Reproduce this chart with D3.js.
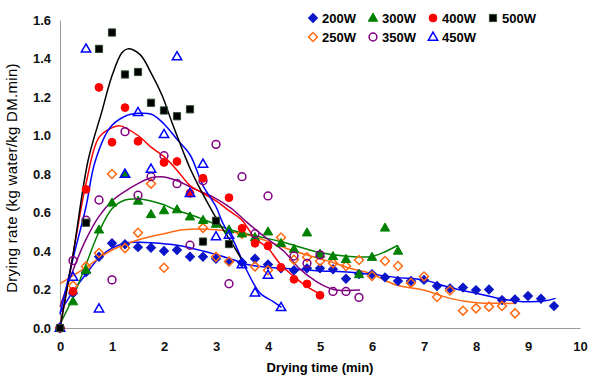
<!DOCTYPE html>
<html>
<head>
<meta charset="utf-8">
<script src="https://cdn.jsdelivr.net/npm/d3@7"></script>
<style>
  body { margin: 0; background: #fff; }
  text { font-family: "Liberation Sans", Arial, sans-serif; }
</style>
</head>
<body>
<div id="chart"></div>
<script>
// Data: drying rate (kg water/kg DM.min) measured every 0.25 min
var timeSteps = [0, 0.25, 0.5, 0.75, 1, 1.25, 1.5, 1.75, 2, 2.25, 2.5, 2.75, 3, 3.25, 3.5, 3.75,
                 4, 4.25, 4.5, 4.75, 5, 5.25, 5.5, 5.75, 6, 6.25, 6.5, 6.75, 7, 7.25, 7.5, 7.75,
                 8, 8.25, 8.5, 8.75, 9, 9.25, 9.5];

var rate200 = [0, 0.18, 0.29, 0.37, 0.44, 0.435, 0.42, 0.417, 0.40, 0.405, 0.37, 0.37, 0.36, 0.345, 0.34, 0.36,
               0.33, 0.31, 0.30, 0.31, 0.31, 0.305, 0.256, 0.28, 0.28, 0.263, 0.244, 0.244, 0.25, 0.218, 0.206, 0.21,
               0.197, 0.20, 0.145, 0.149, 0.166, 0.152, 0.114];
var rate250 = [0, 0.22, 0.32, 0.39, 0.80, 0.415, 0.495, 0.75, 0.313, null, null, 0.52, 0.37, 0.345, 0.49, 0.32,
               0.30, 0.47, 0.355, 0.368, 0.347, 0.337, 0.322, 0.353, 0.27, 0.348, 0.322, 0.234, 0.268, 0.161, 0.195, 0.09,
               0.102, 0.111, 0.114, 0.076];
var rate300 = [0, 0.137, 0.30, 0.51, 0.65, 0.80, 0.66, 0.59, 0.61, 0.615, 0.578, 0.56, 0.54, 0.51, 0.49, 0.47,
               0.50, 0.44, 0.41, 0.495, 0.384, 0.372, 0.357, 0.278, 0.368, 0.52, 0.40];
var rate350 = [0, 0.35, 0.56, 0.665, 0.25, 1.02, 0.69, 0.786, 0.895, 0.75, 0.43, 0.765, 0.954, 0.23, 0.786, 0.49,
               0.686, null, 0.374, 0.336, 0.38, 0.19, 0.19, 0.159];
var rate400 = [0, 0.19, 0.72, 1.25, 0.965, 1.145, 0.97, null, 0.86, 0.865, 0.70, 0.778, null, 0.677, 0.518, 0.44,
               0.426, 0.315, 0.253, 0.229, 0.17];
var rate450 = [0, 0.265, 1.45, 0.10, null, 0.80, 1.12, 0.826, 1.006, 1.41, 0.70, 0.852, 0.475, 0.483, 0.33, 0.183,
               0.275, 0.107];
var rate500 = [0, null, 0.547, 1.45, 1.535, 1.317, 1.33, 1.17, 1.13, 1.10, 1.136, 0.449, 0.557, 0.436];

// Fitted curves
var fitT200 = [0, 0.25, 0.5, 0.77, 1, 1.25, 1.5, 1.75, 2.25, 2.75, 3.27, 3.65, 4.3, 4.94, 5.58, 5.96, 6.47, 6.99, 7.5, 8.01, 8.53, 8.9, 9.3, 9.53];
var fitV200 = [0.08, 0.19, 0.28, 0.37, 0.415, 0.44, 0.445, 0.443, 0.43, 0.40, 0.36, 0.327, 0.31, 0.298, 0.29, 0.28, 0.263, 0.25, 0.21, 0.18, 0.149, 0.137, 0.14, 0.154];
var fitT250 = [0, 0.5, 1, 1.5, 2, 2.37, 3, 3.65, 4, 4.5, 5, 5.25, 5.58, 5.96, 6.47, 6.99, 7.5, 8.01, 8.53, 8.78];
var fitV250 = [0.23, 0.315, 0.405, 0.457, 0.49, 0.51, 0.51, 0.48, 0.45, 0.40, 0.36, 0.34, 0.31, 0.284, 0.223, 0.197, 0.154, 0.131, 0.128, 0.128];
var fitT300 = [0, 0.25, 0.5, 0.75, 1, 1.25, 1.5, 1.75, 2, 2.25, 2.5, 2.75, 3.27, 3.65, 4.3, 4.94, 5.58, 6, 6.2, 6.5];
var fitV300 = [0.02, 0.16, 0.33, 0.50, 0.62, 0.665, 0.67, 0.66, 0.64, 0.61, 0.59, 0.565, 0.51, 0.485, 0.445, 0.395, 0.372, 0.372, 0.39, 0.43];
var fitT350 = [0, 0.25, 0.5, 0.75, 1, 1.25, 1.5, 1.75, 2, 2.3, 2.6, 2.95, 3.3, 3.59, 4, 4.3, 4.6, 4.94, 5.26, 5.5, 5.77];
var fitV350 = [0.11, 0.30, 0.46, 0.58, 0.66, 0.71, 0.75, 0.78, 0.785, 0.76, 0.72, 0.68, 0.62, 0.55, 0.46, 0.40, 0.31, 0.24, 0.20, 0.195, 0.197];
var fitT400 = [0, 0.25, 0.5, 0.75, 1, 1.15, 1.5, 1.75, 2, 2.25, 2.5, 2.75, 3, 3.25, 3.5, 3.75, 4, 4.25, 4.5, 4.75, 5];
var fitV400 = [0, 0.38, 0.75, 0.99, 1.04, 1.05, 1.0, 0.94, 0.89, 0.82, 0.74, 0.70, 0.66, 0.61, 0.56, 0.466, 0.414, 0.327, 0.267, 0.215, 0.177];
var fitT450 = [0, 0.25, 0.5, 0.67, 0.96, 1.25, 1.5, 1.76, 2, 2.25, 2.5, 2.75, 3, 3.14, 3.33, 3.59, 3.85, 4.1, 4.26];
var fitV450 = [0.07, 0.36, 0.63, 0.86, 1.04, 1.10, 1.115, 1.11, 1.06, 0.98, 0.90, 0.74, 0.63, 0.54, 0.457, 0.30, 0.18, 0.137, 0.107];
var fitT500 = [0, 0.25, 0.54, 0.8, 1, 1.19, 1.3, 1.54, 1.76, 1.96, 2.15, 2.37, 2.5, 2.69, 2.95, 3.14, 3.27, 3.5];
var fitV500 = [0, 0.38, 0.87, 1.12, 1.31, 1.43, 1.45, 1.42, 1.32, 1.21, 1.07, 0.916, 0.83, 0.725, 0.596, 0.51, 0.457, 0.353];

var xTicks = [0, 1, 2, 3, 4, 5, 6, 7, 8, 9, 10];
var yTicks = [0, 0.2, 0.4, 0.6, 0.8, 1.0, 1.2, 1.4, 1.6];

var series = [
    { name: "200W", rates: rate200, fitT: fitT200, fitV: fitV200, shape: "diamond",  fill: "#0a14c8", stroke: "#0a14c8", line: "#0000ff" },
    { name: "250W", rates: rate250, fitT: fitT250, fitV: fitV250, shape: "diamond",  fill: "none",    stroke: "#ff6a13", line: "#ff6a13" },
    { name: "300W", rates: rate300, fitT: fitT300, fitV: fitV300, shape: "triangle", fill: "#008000", stroke: "#008000", line: "#008000" },
    { name: "350W", rates: rate350, fitT: fitT350, fitV: fitV350, shape: "circle",   fill: "none",    stroke: "#800080", line: "#800080" },
    { name: "400W", rates: rate400, fitT: fitT400, fitV: fitV400, shape: "circle",   fill: "#ff0000", stroke: "#ff0000", line: "#ff0000" },
    { name: "450W", rates: rate450, fitT: fitT450, fitV: fitV450, shape: "triangle", fill: "none",    stroke: "#0000ff", line: "#0000ff" },
    { name: "500W", rates: rate500, fitT: fitT500, fitV: fitV500, shape: "square",   fill: "#000000", stroke: "#2e4a2e", line: "#000000" }
];

// Size
var chart_width  = 600;
var chart_height = 378;

var x = d3.scaleLinear().domain([0, 10]).range([60, 580]);
var y = d3.scaleLinear().domain([0, 1.6]).range([328, 20]);

var svg = d3.select("#chart")
    .append("svg")
    .attr("width", chart_width)
    .attr("height", chart_height);

// marker shapes
function markerPath(shape) {
    if (shape == "diamond")  return d3.symbol().type(d3.symbolSquare).size(40)();
    if (shape == "triangle") return d3.symbol().type(d3.symbolTriangle).size(38)();
    if (shape == "circle")   return d3.symbol().type(d3.symbolCircle).size(48)();
    return d3.symbol().type(d3.symbolSquare).size(52)();
}
function markerTransform(shape, px, py) {
    if (shape == "diamond") return "translate(" + px + "," + py + ") rotate(45)";
    if (shape == "triangle") return "translate(" + px + "," + (py + 0.5) + ")";
    return "translate(" + px + "," + py + ")";
}

// Axes
var xAxisMinor = d3.axisBottom(x)
    .tickValues(timeSteps.concat([9.75, 10]))
    .tickSizeInner(-3).tickSizeOuter(0)
    .tickFormat("");
var xAxis = d3.axisBottom(x)
    .tickValues(xTicks)
    .tickSizeInner(0).tickSizeOuter(0).tickPadding(14)
    .tickFormat(d3.format("d"));

var yMinor = d3.range(0, 33).map(function(i) { return i * 0.05; });
var yAxisMinor = d3.axisLeft(y)
    .tickValues(yMinor)
    .tickSizeInner(4).tickSizeOuter(0)
    .tickFormat("");
var yAxis = d3.axisLeft(y)
    .tickValues(yTicks)
    .tickSizeInner(0).tickSizeOuter(0).tickPadding(9)
    .tickFormat(d3.format(".1f"));

var gx = svg.append("g").attr("transform", "translate(0,328)");
gx.call(xAxisMinor);
gx.call(xAxis);
var gy = svg.append("g").attr("transform", "translate(60,0)");
gy.call(yAxisMinor);
gy.call(yAxis);

svg.selectAll(".domain").style("stroke", "#9a9a9a");
svg.selectAll(".tick line").style("stroke", "#9a9a9a");
svg.selectAll(".tick text")
    .style("font-size", "13px")
    .style("font-weight", "bold")
    .style("fill", "#111");

// Axis titles
svg.append("text")
    .attr("x", 320).attr("y", 372)
    .attr("text-anchor", "middle")
    .style("font-size", "13px").style("font-weight", "bold")
    .text("Drying time (min)");

svg.append("text")
    .attr("transform", "translate(17,178) rotate(-90)")
    .attr("text-anchor", "middle")
    .style("font-size", "15px")
    .style("letter-spacing", "0.3px")
    .text("Drying rate (kg water/kg DM.min)");

// Fitted lines
var line = d3.line()
    .x(function(d) { return x(d[0]); })
    .y(function(d) { return y(d[1]); })
    .curve(d3.curveCatmullRom.alpha(0.5));

series.forEach(function(s) {
    var pts = s.fitT.map(function(t, i) { return [t, s.fitV[i]]; });
    svg.append("path")
        .datum(pts)
        .attr("d", line)
        .style("fill", "none")
        .style("stroke", s.line)
        .style("stroke-width", 1.5);
});

// Points
series.forEach(function(s) {
    var pts = [];
    s.rates.forEach(function(v, i) {
        if (v != null) pts.push({ t: timeSteps[i], v: v });
    });
    svg.append("g").selectAll("path")
        .data(pts)
        .enter()
        .append("path")
        .attr("d", markerPath(s.shape))
        .attr("transform", function(d) { return markerTransform(s.shape, x(d.t), y(d.v)); })
        .style("fill", s.fill)
        .style("stroke", s.stroke)
        .style("stroke-width", s.fill == "none" ? 1.5 : 1);
});

// Legend (two rows, filled column-wise like the original)
var legend = svg.append("g");
series.forEach(function(s, i) {
    var col = Math.floor(i / 2), row = i % 2;
    var lx = 313 + col * 60;
    var ly = 18 + row * 19;
    legend.append("path")
        .attr("d", markerPath(s.shape))
        .attr("transform", markerTransform(s.shape, lx, ly))
        .style("fill", s.fill)
        .style("stroke", s.stroke)
        .style("stroke-width", s.fill == "none" ? 1.5 : 1);
    legend.append("text")
        .attr("x", lx + 9).attr("y", ly + 5)
        .style("font-size", "13px").style("font-weight", "bold")
        .text(s.name);
});
</script>
</body>
</html>
